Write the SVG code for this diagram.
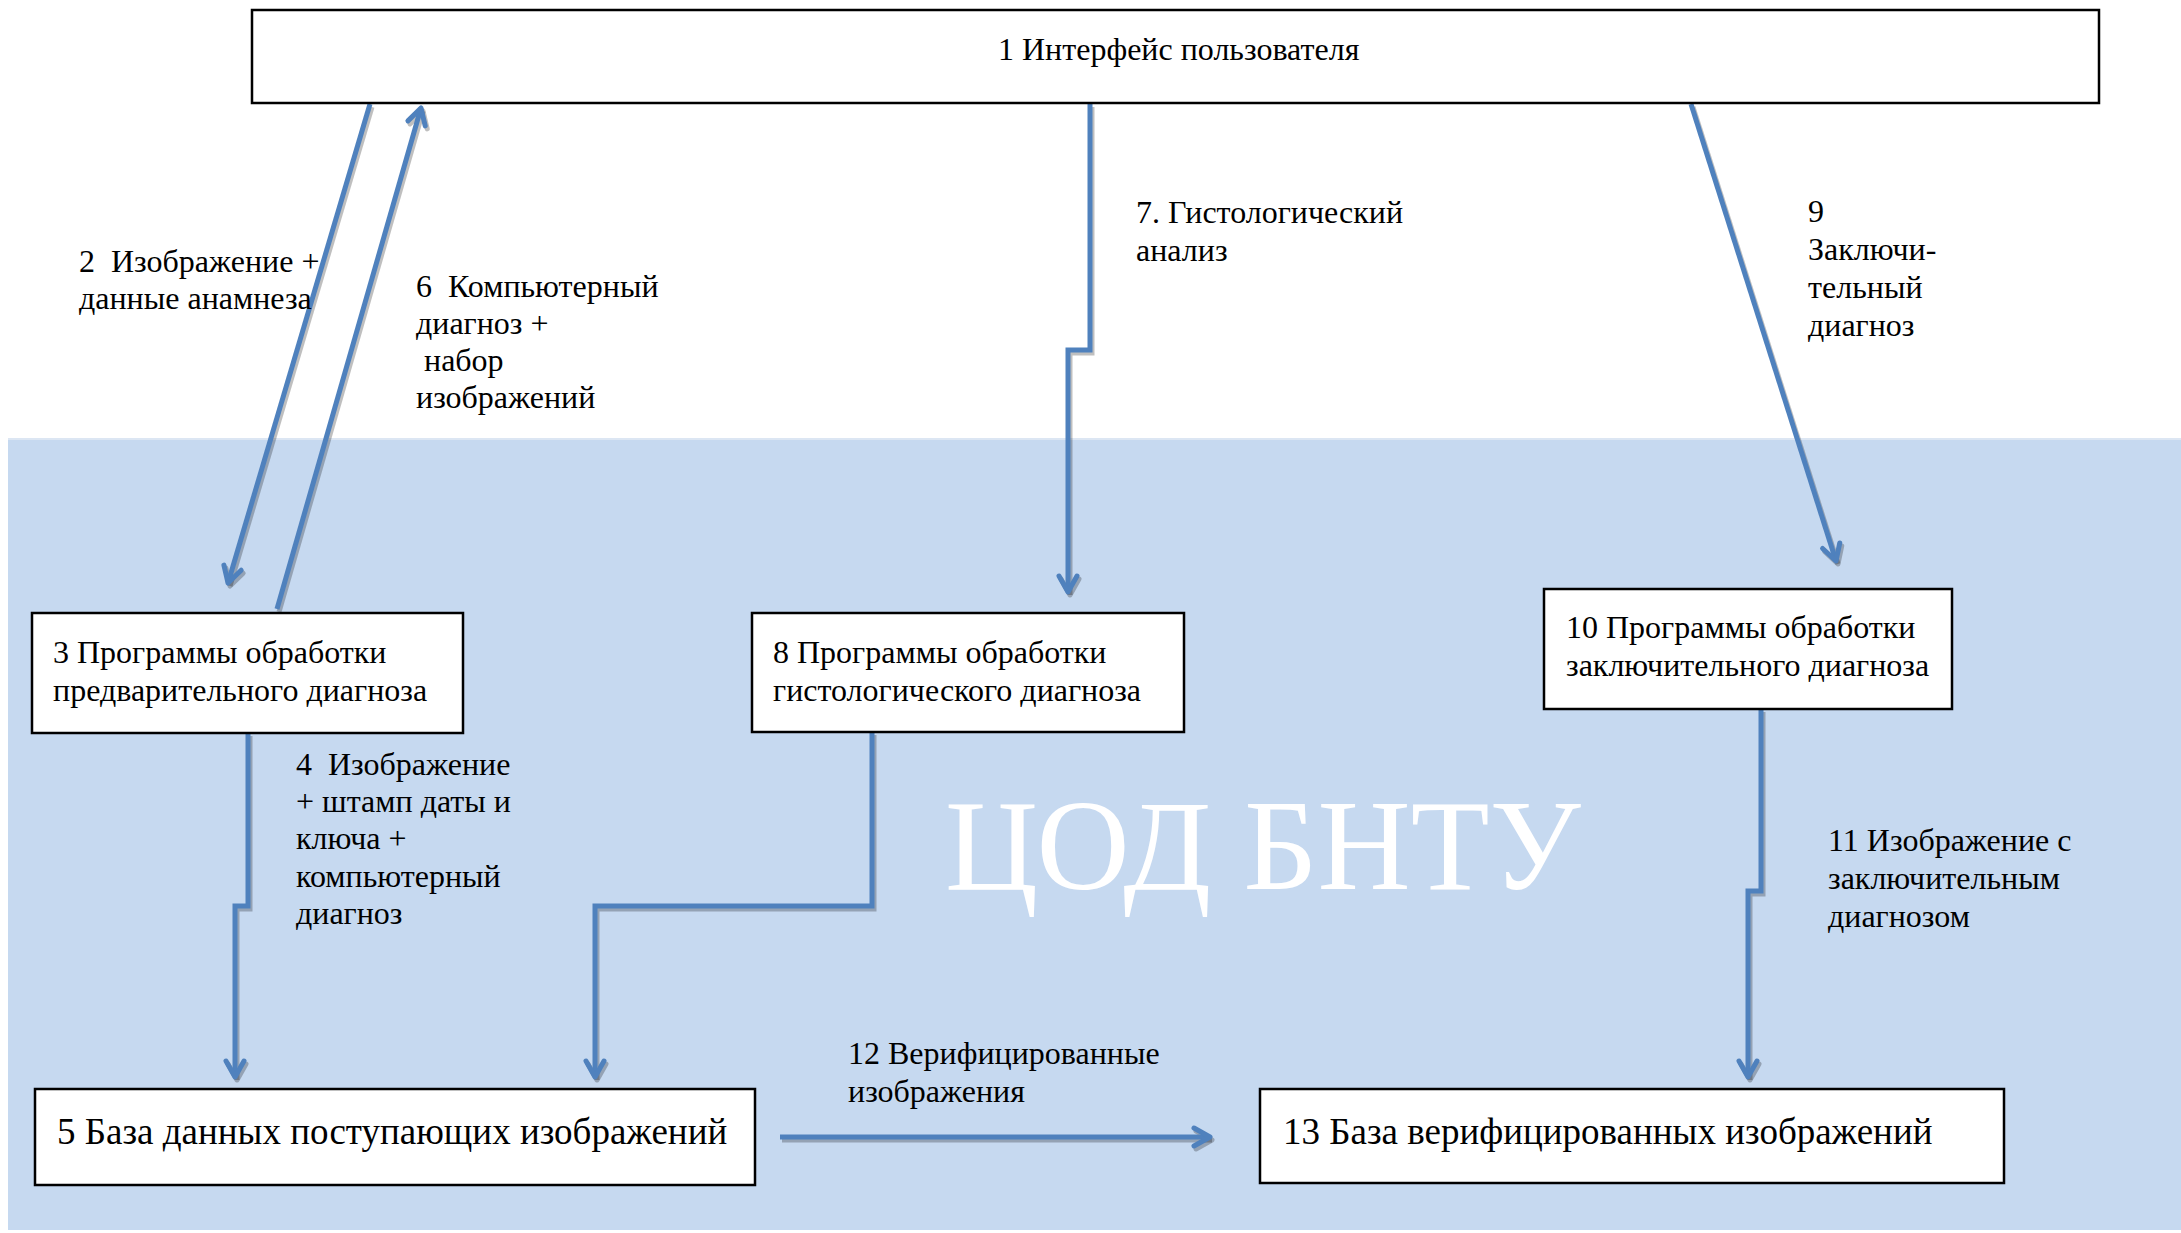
<svg xmlns="http://www.w3.org/2000/svg" width="2181" height="1233" viewBox="0 0 2181 1233">
<style>
  .box { fill: #ffffff; stroke: #000000; stroke-width: 2.5; }
  .t { font-family: "Liberation Serif", "Times New Roman", serif; font-size: 32px; fill: #000000; white-space: pre; }
  .big { font-size: 37px; }
  .wm { font-family: "Liberation Serif", "Times New Roman", serif; font-size: 129px; fill: #ffffff; }
  .sh { fill: none; stroke: #000000; stroke-opacity: 0.25; stroke-width: 5; marker-end: url(#arrS); }
  .ln { fill: none; stroke: #4F81BD; stroke-width: 5; marker-end: url(#arrB); }
</style>
<defs>
  <marker id="arrB" markerUnits="userSpaceOnUse" markerWidth="40" markerHeight="40" refX="20" refY="20" orient="auto" viewBox="0 0 40 40">
    <path d="M4,11 L20,20 L4,29" fill="none" stroke="#4F81BD" stroke-width="5" stroke-linecap="round" stroke-linejoin="round"/>
  </marker>
  <marker id="arrS" markerUnits="userSpaceOnUse" markerWidth="40" markerHeight="40" refX="20" refY="20" orient="auto" viewBox="0 0 40 40">
    <path d="M4,11 L20,20 L4,29" fill="none" stroke="#000000" stroke-opacity="0.25" stroke-width="5" stroke-linecap="round" stroke-linejoin="round"/>
  </marker>
  <path id="p2" d="M370,104 L228,583"/>
  <path id="p6" d="M277,609 L421,108"/>
  <path id="p7" d="M1090,104 V350 H1068 V592"/>
  <path id="p9" d="M1691,104 L1836,561"/>
  <path id="p4" d="M248,733 V906 H235 V1077"/>
  <path id="p85" d="M872,732 V906 H595 V1077"/>
  <path id="p11" d="M1761,709 V891 H1748 V1077"/>
  <path id="p12" d="M780,1137 H1210"/>
</defs>

<rect x="0" y="0" width="2181" height="1233" fill="#ffffff"/>
<g id="zone">
  <rect x="8" y="438" width="2173" height="792" fill="#C6D9F0"/>
  <line x1="8" y1="439" x2="2181" y2="439" stroke="#DCE6F3" stroke-width="2"/>
  <text class="wm" x="945" y="889">ЦОД БНТУ</text>
</g>

<g id="connectors">
  <g transform="translate(2,3)">
    <use href="#p2" class="sh"/>
    <use href="#p6" class="sh"/>
    <use href="#p7" class="sh"/>
    <use href="#p9" class="sh"/>
    <use href="#p4" class="sh"/>
    <use href="#p85" class="sh"/>
    <use href="#p11" class="sh"/>
    <use href="#p12" class="sh"/>
  </g>
  <use href="#p2" class="ln"/>
  <use href="#p6" class="ln"/>
  <use href="#p7" class="ln"/>
  <use href="#p9" class="ln"/>
  <use href="#p4" class="ln"/>
  <use href="#p85" class="ln"/>
  <use href="#p11" class="ln"/>
  <use href="#p12" class="ln"/>
</g>

<g id="labels">
  <text class="t" x="79" y="272">2  Изображение +</text>
  <text class="t" x="79" y="309">данные анамнеза</text>
  <text class="t" x="416" y="297">6  Компьютерный</text>
  <text class="t" x="416" y="334">диагноз +</text>
  <text class="t" x="416" y="371"> набор</text>
  <text class="t" x="416" y="408">изображений</text>
  <text class="t" x="1136" y="223">7. Гистологический</text>
  <text class="t" x="1136" y="261">анализ</text>
  <text class="t" x="1808" y="222">9</text>
  <text class="t" x="1808" y="260">Заключи-</text>
  <text class="t" x="1808" y="298">тельный</text>
  <text class="t" x="1808" y="336">диагноз</text>
  <text class="t" x="296" y="775">4  Изображение</text>
  <text class="t" x="296" y="812">+ штамп даты и</text>
  <text class="t" x="296" y="849">ключа +</text>
  <text class="t" x="296" y="887">компьютерный</text>
  <text class="t" x="296" y="924">диагноз</text>
  <text class="t" x="1828" y="851">11 Изображение с</text>
  <text class="t" x="1828" y="889">заключительным</text>
  <text class="t" x="1828" y="927">диагнозом</text>
  <text class="t" x="848" y="1064">12 Верифицированные</text>
  <text class="t" x="848" y="1102">изображения</text>
</g>

<g id="n1">
  <rect class="box" x="252" y="10" width="1847" height="93"/>
  <text class="t" x="998" y="60">1 Интерфейс пользователя</text>
</g>
<g id="n3">
  <rect class="box" x="32" y="613" width="431" height="120"/>
  <text class="t" x="53" y="663">3 Программы обработки</text>
  <text class="t" x="53" y="701">предварительного диагноза</text>
</g>
<g id="n5">
  <rect class="box" x="35" y="1089" width="720" height="96"/>
  <text class="t big" x="57" y="1144">5 База данных поступающих изображений</text>
</g>
<g id="n8">
  <rect class="box" x="752" y="613" width="432" height="119"/>
  <text class="t" x="773" y="663">8 Программы обработки</text>
  <text class="t" x="773" y="701">гистологического диагноза</text>
</g>
<g id="n10">
  <rect class="box" x="1544" y="589" width="408" height="120"/>
  <text class="t" x="1566" y="638">10 Программы обработки</text>
  <text class="t" x="1566" y="676">заключительного диагноза</text>
</g>
<g id="n13">
  <rect class="box" x="1260" y="1089" width="744" height="94"/>
  <text class="t big" x="1283" y="1144">13 База верифицированных изображений</text>
</g>
</svg>
